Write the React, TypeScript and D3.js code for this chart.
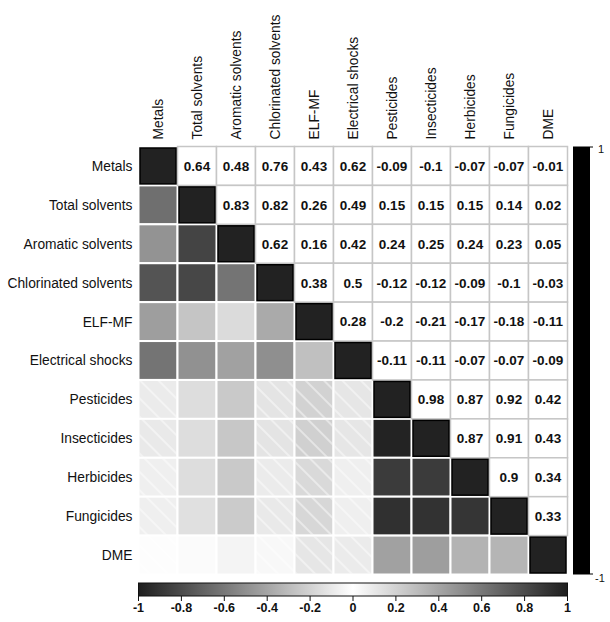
import React from 'react';
import * as d3 from 'd3';

// variable names, same order for rows and columns
const labels = [
  'Metals', 'Total solvents', 'Aromatic solvents', 'Chlorinated solvents', 'ELF-MF',
  'Electrical shocks', 'Pesticides', 'Insecticides', 'Herbicides', 'Fungicides', 'DME',
];

// upper triangle, row by row (columns to the right of the diagonal)
const rowMetals = [0.64, 0.48, 0.76, 0.43, 0.62, -0.09, -0.1, -0.07, -0.07, -0.01];
const rowTotal = [0.83, 0.82, 0.26, 0.49, 0.15, 0.15, 0.15, 0.14, 0.02];
const rowAromatic = [0.62, 0.16, 0.42, 0.24, 0.25, 0.24, 0.23, 0.05];
const rowChlorinated = [0.38, 0.5, -0.12, -0.12, -0.09, -0.1, -0.03];
const rowElf = [0.28, -0.2, -0.21, -0.17, -0.18, -0.11];
const rowShocks = [-0.11, -0.11, -0.07, -0.07, -0.09];
const rowPesticides = [0.98, 0.87, 0.92, 0.42];
const rowInsecticides = [0.87, 0.91, 0.43];
const rowHerbicides = [0.9, 0.34];
const rowFungicides = [0.33];
const upperRows = [
  rowMetals, rowTotal, rowAromatic, rowChlorinated, rowElf, rowShocks,
  rowPesticides, rowInsecticides, rowHerbicides, rowFungicides, [],
];

const legendTicks = [-1, -0.8, -0.6, -0.4, -0.2, 0, 0.2, 0.4, 0.6, 0.8, 1];

const font = '"Liberation Sans", Arial, sans-serif';

const corr = (i: number, j: number) => {
  if (i === j) return 1;
  return i < j ? upperRows[i][j - i - 1] : upperRows[j][i - j - 1];
};

export default function App() {
  const W = 610;
  const H = 622;
  const left = 138.5;
  const top = 146.5;
  const size = 429;

  const x = d3.scaleBand().domain(labels).range([left, left + size]);
  const y = d3.scaleBand().domain(labels).range([top, top + size - 1]);
  const bw = x.bandwidth();
  const bh = y.bandwidth();

  const color = d3.scaleLinear<string>()
    .domain([-1, 0, 1])
    .range(['#1e1e1e', '#ffffff', '#1e1e1e']);

  const legendX = d3.scaleLinear().domain([-1, 1]).range([left, left + size]);
  const barTop = 583;
  const barH = 13;

  const cells: { i: number; j: number; v: number }[] = [];
  labels.forEach((_, i) => labels.forEach((__, j) => cells.push({ i, j, v: corr(i, j) })));

  const gradStops = d3.range(-1, 1.0001, 0.1);

  return (
    <svg width={W} height={H} style={{ position: 'absolute', left: 0, top: 0, background: '#fff' }}>
      <defs>
        <pattern id="hatch" patternUnits="userSpaceOnUse" width="14" height="13"
          patternTransform="rotate(45)">
          <line x1="0" y1="1" x2="14" y2="1" stroke="#ffffff" strokeOpacity="0.9" strokeWidth="1" />
        </pattern>
        <linearGradient id="legendGrad" x1="0" x2="1" y1="0" y2="0">
          {gradStops.map((v, k) => (
            <stop key={k} offset={(v + 1) / 2} stopColor={color(v)} />
          ))}
        </linearGradient>
      </defs>

      {/* lower triangle: shaded cells, hatched when negative */}
      {cells.filter(c => c.i > c.j).map(c => (
        <g key={`l${c.i}-${c.j}`}>
          <rect x={x(labels[c.j])!} y={y(labels[c.i])!} width={bw} height={bh}
            fill={color(c.v)} stroke="#ffffff" strokeWidth={2} />
          {c.v < 0 && (
            <rect x={x(labels[c.j])! + 1} y={y(labels[c.i])! + 1} width={bw - 2} height={bh - 2}
              fill="url(#hatch)" />
          )}
        </g>
      ))}

      {/* upper triangle: printed coefficients */}
      {cells.filter(c => c.i < c.j).map(c => (
        <g key={`u${c.i}-${c.j}`}>
          <rect x={x(labels[c.j])!} y={y(labels[c.i])!} width={bw} height={bh}
            fill="#ffffff" stroke="#c6c6c6" strokeWidth={1.5} />
          <text x={x(labels[c.j])! + bw / 2} y={y(labels[c.i])! + bh / 2} dy="0.36em"
            textAnchor="middle" fontFamily={font} fontWeight="bold" fontSize={13.5} fill="#111">
            {String(c.v)}
          </text>
        </g>
      ))}

      {/* diagonal */}
      {labels.map((l, i) => (
        <rect key={`d${i}`} x={x(l)! + 1.5} y={y(l)! + 1.5} width={bw - 3} height={bh - 3}
          fill="#222222" stroke="#000000" strokeWidth={1.5} />
      ))}

      {/* row labels */}
      {labels.map(l => (
        <text key={`r${l}`} x={left - 6} y={y(l)! + bh / 2} dy="0.36em" textAnchor="end"
          fontFamily={font} fontSize={13.8} fill="#111">
          {l}
        </text>
      ))}

      {/* column labels */}
      {labels.map(l => (
        <text key={`c${l}`} transform={`translate(${x(l)! + bw / 2 + 5},${top - 7}) rotate(-90)`}
          fontFamily={font} fontSize={13.8} fill="#111">
          {l}
        </text>
      ))}

      {/* right legend bar */}
      <rect x={573} y={top} width={17} height={size - 1} fill="#000000" />
      <line x1={590} x2={593} y1={top + 0.5} y2={top + 0.5} stroke="#000" strokeWidth={1} />
      <line x1={590} x2={593} y1={top + size - 1.5} y2={top + size - 1.5} stroke="#000" strokeWidth={1} />
      <text x={598} y={top + 6} fontFamily={font} fontSize={11} fill="#111">1</text>
      <text x={595} y={top + size + 6} fontFamily={font} fontSize={11} fill="#111">-1</text>

      {/* bottom gradient legend */}
      <rect x={left} y={barTop} width={size} height={barH} fill="url(#legendGrad)"
        stroke="#111" strokeWidth={1} />
      {legendTicks.map(t => (
        <g key={`t${t}`}>
          <line x1={legendX(t)} x2={legendX(t)} y1={barTop + barH} y2={barTop + barH + 5}
            stroke="#111" strokeWidth={1} />
          <text x={legendX(t)} y={barTop + barH + 16} textAnchor="middle" fontFamily={font}
            fontWeight="bold" fontSize={12.5} fill="#111">
            {String(t)}
          </text>
        </g>
      ))}
    </svg>
  );
}
